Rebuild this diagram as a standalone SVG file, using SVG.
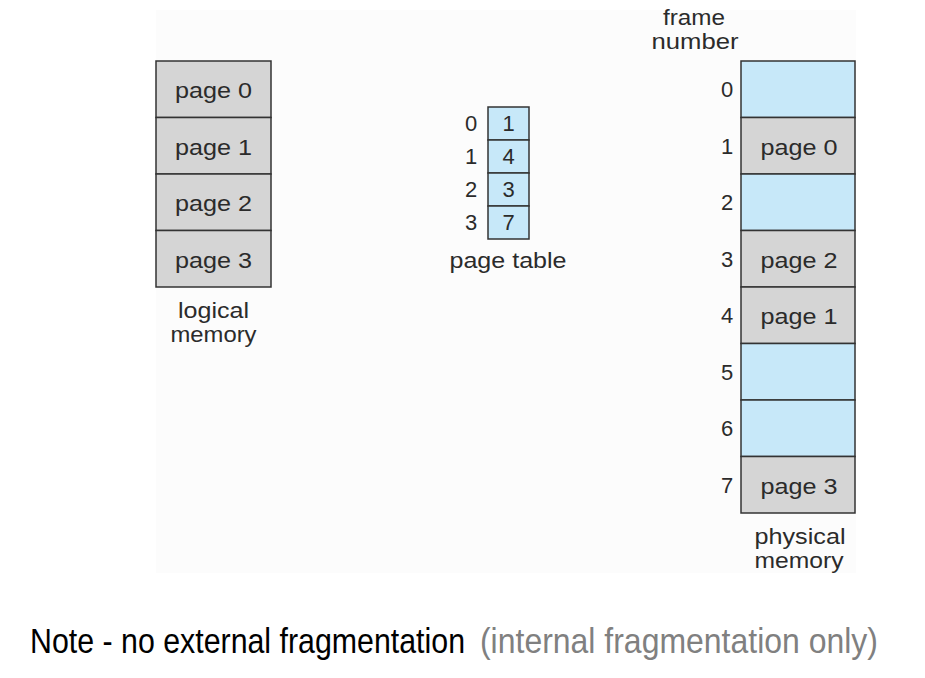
<svg xmlns="http://www.w3.org/2000/svg" width="925" height="678" viewBox="0 0 925 678">
<style>
.t{font-family:"Liberation Sans",Arial,sans-serif;font-size:22px;fill:#2b2b2b}
.c{text-anchor:middle}
.e{text-anchor:end}
.g{fill:#d5d5d5;stroke:#333;stroke-width:1.5}
.b{fill:#c7e8f9;stroke:#333;stroke-width:1.5}
.note{font-family:"Liberation Sans",Arial,sans-serif;font-size:36px}
</style>
<rect x="0" y="0" width="925" height="678" fill="#ffffff"/>
<rect x="156" y="10" width="700" height="563" fill="#fcfcfc"/>
<g id="logical-memory">
<rect class="g" x="156" y="61" width="115" height="56.5"/>
<rect class="g" x="156" y="117.5" width="115" height="56.5"/>
<rect class="g" x="156" y="174" width="115" height="56.5"/>
<rect class="g" x="156" y="230.5" width="115" height="56.5"/>
<text class="t c" x="213.5" y="98" textLength="77" lengthAdjust="spacingAndGlyphs">page 0</text>
<text class="t c" x="213.5" y="154.5" textLength="77" lengthAdjust="spacingAndGlyphs">page 1</text>
<text class="t c" x="213.5" y="211" textLength="77" lengthAdjust="spacingAndGlyphs">page 2</text>
<text class="t c" x="213.5" y="267.5" textLength="77" lengthAdjust="spacingAndGlyphs">page 3</text>
<text class="t c" x="213.5" y="318" textLength="71" lengthAdjust="spacingAndGlyphs">logical</text>
<text class="t c" x="213.5" y="342" textLength="86" lengthAdjust="spacingAndGlyphs">memory</text>
</g>
<g id="page-table">
<rect class="b" x="488" y="107" width="41" height="33"/>
<rect class="b" x="488" y="140" width="41" height="33"/>
<rect class="b" x="488" y="173" width="41" height="33"/>
<rect class="b" x="488" y="206" width="41" height="33"/>
<text class="t c" x="508.5" y="131">1</text>
<text class="t c" x="508.5" y="164">4</text>
<text class="t c" x="508.5" y="197">3</text>
<text class="t c" x="508.5" y="230">7</text>
<text class="t c" x="471" y="131">0</text>
<text class="t c" x="471" y="164">1</text>
<text class="t c" x="471" y="197">2</text>
<text class="t c" x="471" y="230">3</text>
<text class="t c" x="508" y="268" textLength="117" lengthAdjust="spacingAndGlyphs">page table</text>
</g>
<g id="physical-memory">
<rect class="b" x="741" y="61" width="114" height="56.5"/>
<rect class="g" x="741" y="117.5" width="114" height="56.5"/>
<rect class="b" x="741" y="174" width="114" height="56.5"/>
<rect class="g" x="741" y="230.5" width="114" height="56.5"/>
<rect class="g" x="741" y="287" width="114" height="56.5"/>
<rect class="b" x="741" y="343.5" width="114" height="56.5"/>
<rect class="b" x="741" y="400" width="114" height="56.5"/>
<rect class="g" x="741" y="456.5" width="114" height="56.5"/>
<text class="t c" x="799" y="154.5" textLength="77" lengthAdjust="spacingAndGlyphs">page 0</text>
<text class="t c" x="799" y="267.5" textLength="77" lengthAdjust="spacingAndGlyphs">page 2</text>
<text class="t c" x="799" y="324" textLength="77" lengthAdjust="spacingAndGlyphs">page 1</text>
<text class="t c" x="799" y="494" textLength="77" lengthAdjust="spacingAndGlyphs">page 3</text>
<text class="t c" x="727" y="97">0</text>
<text class="t c" x="727" y="154">1</text>
<text class="t c" x="727" y="210">2</text>
<text class="t c" x="727" y="267">3</text>
<text class="t c" x="727" y="323">4</text>
<text class="t c" x="727" y="380">5</text>
<text class="t c" x="727" y="436">6</text>
<text class="t c" x="727" y="493">7</text>
<text class="t c" x="694" y="25" textLength="62" lengthAdjust="spacingAndGlyphs">frame</text>
<text class="t c" x="695" y="49" textLength="87" lengthAdjust="spacingAndGlyphs">number</text>
<text class="t c" x="800" y="544" textLength="91" lengthAdjust="spacingAndGlyphs">physical</text>
<text class="t c" x="799" y="568" textLength="89" lengthAdjust="spacingAndGlyphs">memory</text>
</g>
<g id="connectors"></g>
<g id="note" transform="scale(0.85,1)">
<text class="note" x="35.3" y="653" fill="#000" textLength="511.8" lengthAdjust="spacingAndGlyphs">Note - no external fragmentation</text>
<text class="note" x="564.7" y="653" fill="#808080" textLength="468.2" lengthAdjust="spacingAndGlyphs">(internal fragmentation only)</text>
</g>
</svg>
